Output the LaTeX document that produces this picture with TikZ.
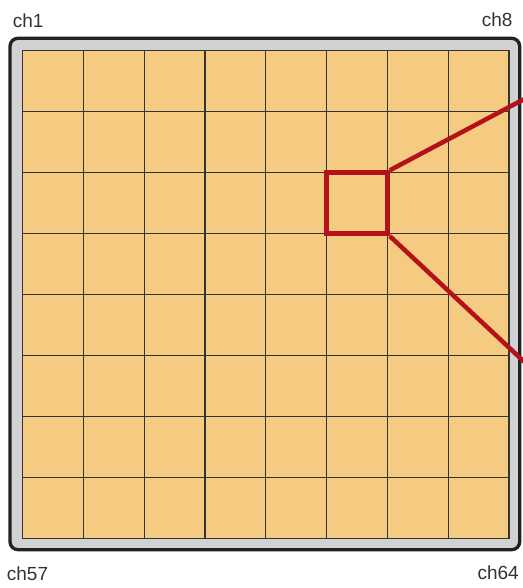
\documentclass[tikz,border=0pt]{standalone}
\usepackage{fontspec}
\setmainfont{Liberation Sans}
\usetikzlibrary{positioning}
\definecolor{pxEdge}{RGB}{34,34,34}
\definecolor{pxFrame}{RGB}{209,210,212}
\definecolor{pxCell}{RGB}{245,203,130}
\definecolor{pxGrid}{RGB}{51,51,51}
\definecolor{pxSel}{RGB}{179,18,26}
\definecolor{pxText}{RGB}{51,51,51}

\begin{document}
\begin{tikzpicture}[
			x=1pt,y=-1pt,
			lbl/.style={
				text=pxText,
				inner sep=0pt,
				font=\fontsize{19}{22}\selectfont
			},
			frame/.style={
				draw=pxEdge,
				fill=pxFrame,
				line width=3.3pt,
				rounded corners=8pt
			},
			cellgrid/.style={
				draw=pxGrid,
				line width=1.3pt
			},
			sel/.style={
				draw=pxSel,
				line width=4.8pt,
				minimum width=60.8pt,
				minimum height=61pt,
				inner sep=0pt
			},
			link/.style={
				draw=pxSel,
				line width=4.5pt
			}
			]
			\useasboundingbox (0,0) rectangle (522,588);
			\draw[frame] (10,38.3) rectangle (519.7,549.7);
			\draw[cellgrid,fill=pxCell] (22.6,50.7) rectangle (509,538.7);
			\foreach \i in {1,...,7} {
				\draw[cellgrid] ({22.6+60.8*\i},50.7) -- ({22.6+60.8*\i},538.7);
				\draw[cellgrid] (22.6,{50.7+61*\i}) -- (509,{50.7+61*\i});
			}
			\node[lbl,anchor=base west](ch1) at (12.7,27.3) {ch1};
			\node[lbl,anchor=base east](ch8) at (512.7,26.7) {ch8};
			\node[lbl,anchor=base west](ch57) at (6.7,580) {ch57};
			\node[lbl,anchor=base east](ch64) at (519,579) {ch64};
			\node[sel](pick) at (357,203.2) {};
			\coordinate (zoomtop) at (530,96);
			\coordinate (zoombot) at (530,367.2);
			\draw[link](pick.north east)--(zoomtop);
			\draw[link](pick.south east)--(zoombot);
		\end{tikzpicture}
\end{document}
